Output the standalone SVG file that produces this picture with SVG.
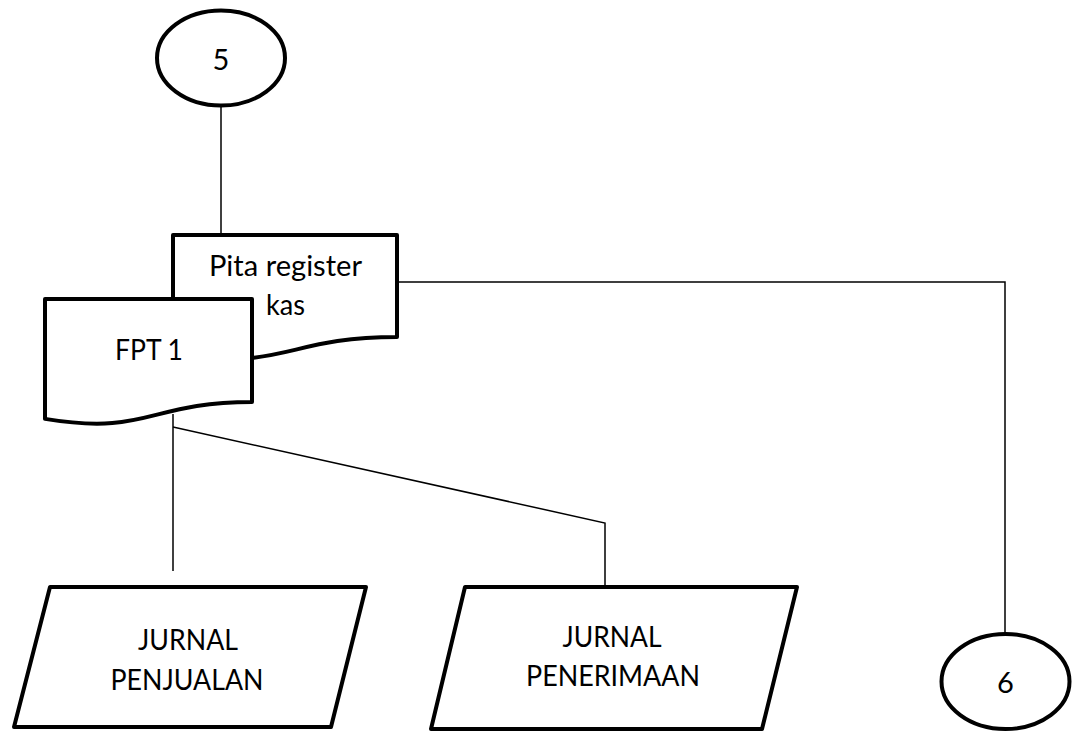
<svg xmlns="http://www.w3.org/2000/svg" width="1082" height="733" viewBox="0 0 1082 733">
<style>
.shape{fill:#fff;stroke:#000;stroke-width:4;stroke-linejoin:round}
.conn{fill:none;stroke:#000;stroke-width:1.5}
.t{font-family:Lato,"Open Sans","Liberation Sans",sans-serif;font-size:29px;fill:#000;text-anchor:middle}
</style>
<rect width="1082" height="733" fill="#fff"/>
<g id="connectors">
<path class="conn" d="M221,106 V236"/>
<path class="conn" d="M397,282 H1005 V634"/>
<path class="conn" d="M173,414 V571"/>
<path class="conn" d="M173,427 L605,523 V588"/>
</g>
<g id="node-5">
<ellipse class="shape" cx="221" cy="58" rx="64" ry="47.5"/>
<text class="t" x="221" y="70">5</text>
</g>
<g id="node-pita">
<path class="shape" d="M173,235 H397 V337 C285,337 285,372 173,353.6 Z"/>
<text class="t" x="285.5" y="276" textLength="153" lengthAdjust="spacingAndGlyphs">Pita register</text>
<text class="t" x="285.5" y="315" textLength="39" lengthAdjust="spacingAndGlyphs">kas</text>
</g>
<g id="node-fpt1">
<path class="shape" d="M45,299 H252 V402 C148.5,402 148.5,436 45,418.9 Z"/>
<text class="t" x="149" y="360" textLength="68" lengthAdjust="spacingAndGlyphs">FPT 1</text>
</g>
<g id="node-jurnal-penjualan">
<polygon class="shape" points="50,587 366,587 331,727 14,727"/>
<text class="t" x="188" y="650" textLength="100" lengthAdjust="spacingAndGlyphs">JURNAL</text>
<text class="t" x="187" y="690" textLength="153" lengthAdjust="spacingAndGlyphs">PENJUALAN</text>
</g>
<g id="node-jurnal-penerimaan">
<polygon class="shape" points="465,587 797,587 762,729 431,729"/>
<text class="t" x="612" y="647" textLength="99" lengthAdjust="spacingAndGlyphs">JURNAL</text>
<text class="t" x="613" y="686" textLength="174" lengthAdjust="spacingAndGlyphs">PENERIMAAN</text>
</g>
<g id="node-6">
<ellipse class="shape" cx="1005.5" cy="681.5" rx="64" ry="47.5"/>
<text class="t" x="1005.5" y="693">6</text>
</g>
</svg>
